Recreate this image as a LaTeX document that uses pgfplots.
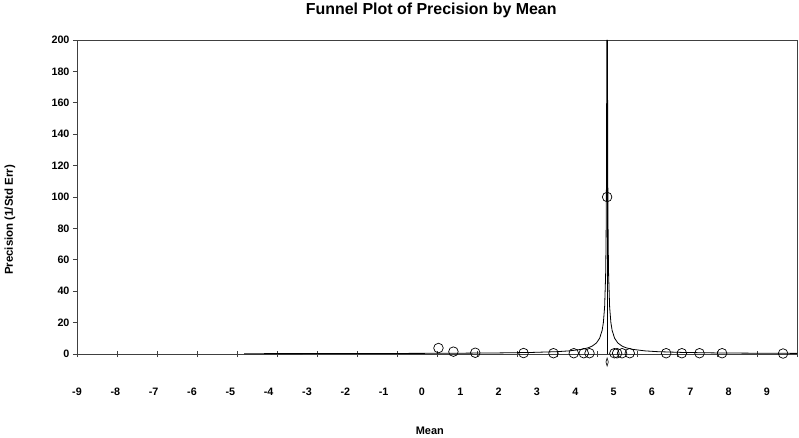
\documentclass[border=0pt]{standalone}
\usepackage{fontspec}
\setmainfont{Liberation Sans}
\usepackage{pgfplots}
\pgfplotsset{compat=1.18}
\definecolor{axisgrey}{HTML}{404040}

\begin{document}
\begin{tikzpicture}
\path[use as bounding box] (-77bp,-84bp) rectangle (722bp,354bp);
\begin{axis}[
    at={(0,0)}, anchor=south west,
    scale only axis,
    width=720bp, height=314bp,
    xmin=-9, xmax=9.784,
    ymin=0, ymax=200,
    clip=false,
    axis line style={draw=axisgrey, line width=0.9bp},
    xtick={-9,...,9},
    major x tick style={draw=none},
    xticklabel style={anchor=base, yshift=-41bp},
    extra x ticks={-9,-7.956,-6.913,-5.869,-4.826,-3.782,-2.739,-1.695,-0.651,
        0.392,1.436,2.479,3.523,4.566,5.610,6.654,7.697,8.741,9.784},
    extra x tick labels={},
    extra x tick style={major tick length=6bp, tick align=center,
        major x tick style={draw=axisgrey, line width=0.7bp}},
    xtick pos=bottom,
    ytick={0,20,...,200},
    ytick pos=left,
    ytick align=outside,
    major y tick style={draw=axisgrey, line width=0.7bp},
    major tick length=4bp,
    tick label style={font=\fontsize{10.8}{12}\selectfont\bfseries},
    /pgf/number format/assume math mode=true,
    title={Funnel Plot of Precision by Mean},
    title style={at={(axis description cs:0.492,1)}, anchor=base, yshift=20bp,
        font=\fontsize{16}{19}\selectfont\bfseries},
    xlabel={Mean},
    every axis x label/.style={at={(axis description cs:0.49,0)}, anchor=base,
        yshift=-80bp, font=\fontsize{11}{13}\selectfont\bfseries},
    ylabel={Precision (1/Std Err)},
    every axis y label/.style={at={(axis description cs:-0.093,0.427)}, rotate=90,
        anchor=center, font=\fontsize{11.5}{13}\selectfont\bfseries},
]
% mean line
\addplot[black, line width=0.8bp] coordinates {(4.83,0) (4.83,200)};
% funnel limits (1.96/precision around the mean)
\addplot[black, line width=0.8bp] coordinates {
    (4.8202,200) (4.8169,150) (4.8104,100) (4.802,70) (4.7908,50) (4.7647,30)
    (4.732,20) (4.6993,15) (4.634,10) (4.55,7) (4.438,5) (4.34,4) (4.177,3)
    (3.85,2) (3.523,1.5) (2.87,1) (2.03,0.7) (0.91,0.5) (-0.07,0.4)
    (-1.70,0.3) (-4.64,0.207)
};
\addplot[black, line width=0.8bp] coordinates {
    (4.8398,200) (4.8431,150) (4.8496,100) (4.858,70) (4.8692,50) (4.8953,30)
    (4.928,20) (4.9607,15) (5.026,10) (5.11,7) (5.222,5) (5.32,4) (5.483,3)
    (5.81,2) (6.137,1.5) (6.79,1) (7.63,0.7) (8.75,0.5) (9.784,0.396)
};
% studies
\addplot[only marks, mark=o, mark size=4.8bp, mark options={black, line width=0.7bp}]
    coordinates {
    (0.43,3.8) (0.82,1.5) (1.39,0.8) (2.65,0.6) (3.43,0.5) (3.96,0.5)
    (4.22,0.5) (4.37,0.5) (4.83,100) (5.02,0.5) (5.09,0.5) (5.22,0.5)
    (5.42,0.5) (6.37,0.5) (6.78,0.5) (7.24,0.5) (7.83,0.5) (9.42,0.3)
};
% combined estimate
\addplot[only marks, mark=diamond, mark size=4bp,
    mark options={black, line width=0.6bp, xscale=0.4}]
    coordinates {(4.83,-5.1)};
\end{axis}
\end{tikzpicture}
\end{document}
